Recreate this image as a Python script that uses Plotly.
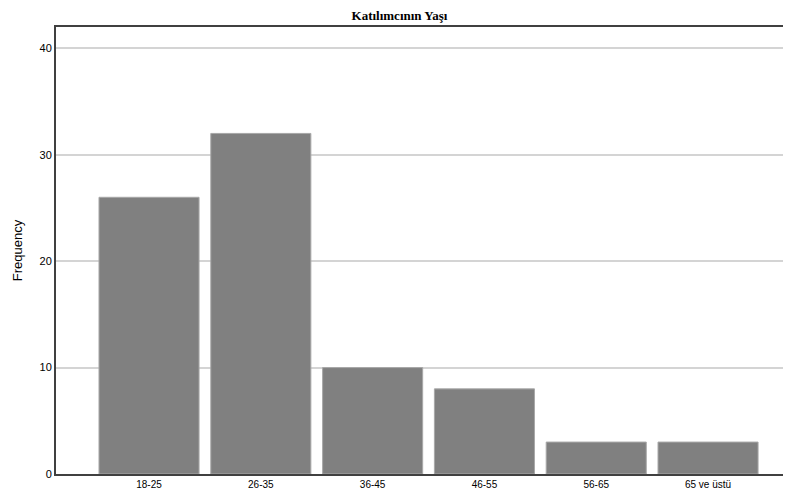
import plotly.graph_objects as go

categories = ["18-25", "26-35", "36-45", "46-55", "56-65", "65 ve üstü"]
frequencies = [26, 32, 10, 8, 3, 3]
y_ticks = [0, 10, 20, 30, 40]

fig = go.Figure(go.Bar(
    x=list(range(len(categories))),
    y=frequencies,
    marker=dict(color="#808080", line=dict(color="#a8a8a8", width=1)),
    width=0.895,
))

fig.update_layout(
    width=783, height=489,
    margin=dict(l=48, r=0, t=19, b=23),
    paper_bgcolor="white", plot_bgcolor="white",
    showlegend=False,
    title=dict(text="<b>Katılımcının Yaşı</b>", x=0.5, xanchor="center", y=0.984, yanchor="middle",
               font=dict(family="Times New Roman", size=13, color="black")),
    font=dict(family="Liberation Sans, Arial", size=11, color="black"),
)
fig.update_xaxes(
    range=[-0.832, 5.742],
    tickmode="array", tickvals=list(range(len(categories))), ticktext=categories,
    showgrid=False, zeroline=False,
    showline=True, linecolor="#404040", linewidth=2, mirror=True,
    ticks="", tickfont=dict(size=10),
)
fig.update_yaxes(
    range=[0, 42],
    tickmode="array", tickvals=y_ticks,
    showgrid=True, gridcolor="#d4d4d4", gridwidth=1.5,
    zeroline=False,
    showline=True, linecolor="#404040", linewidth=2,
    ticks="", tickfont=dict(size=11),
    title=dict(text="Frequency", font=dict(size=13), standoff=14),
)

fig.write_html("out.html")
